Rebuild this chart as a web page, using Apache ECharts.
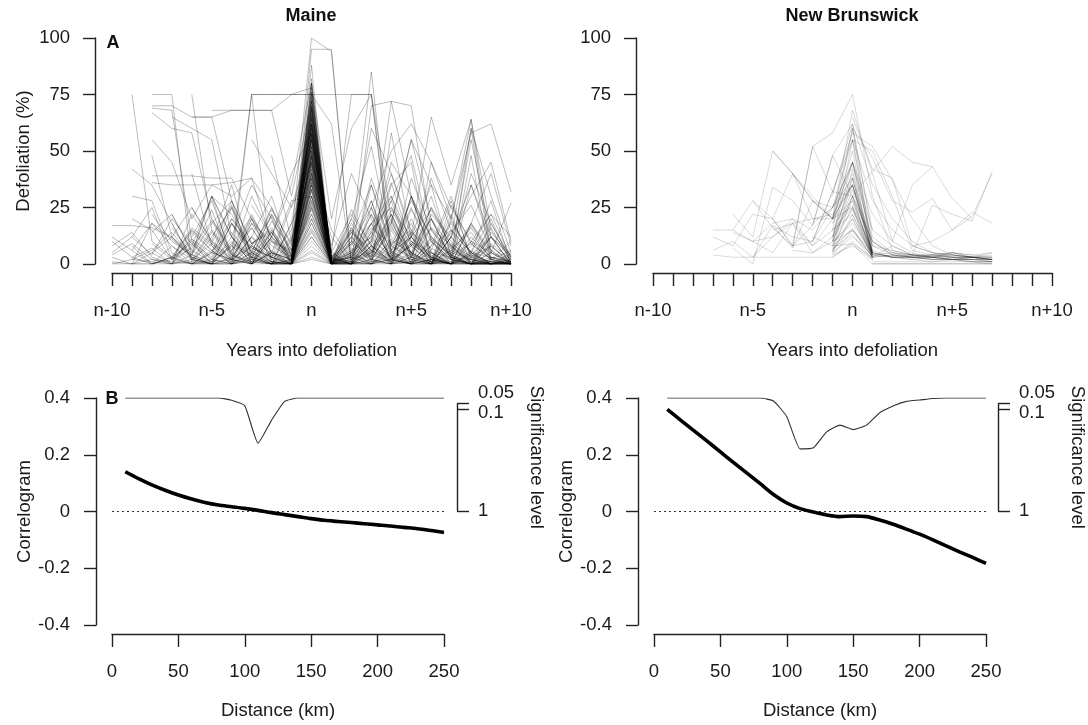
<!DOCTYPE html>
<html>
<head>
<meta charset="utf-8">
<script src="https://cdn.jsdelivr.net/npm/echarts@6/dist/echarts.min.js"></script>
<style>
html,body{margin:0;padding:0;background:#fff;}
#chart{width:1088px;height:725px;}
</style>
</head>
<body>
<div id="chart"></div>
<script>
// ---------------- DATA ----------------
const panelTitles = ['Maine', 'New Brunswick'];
const yearTickValues = [-10, -5, 0, 5, 10];
const yearTickLabels = ['n-10', 'n-5', 'n', 'n+5', 'n+10'];
const defolTicks = [0, 25, 50, 75, 100];
const corrTicks = [-0.4, -0.2, 0, 0.2, 0.4];
const sigTickValues = [0.05, 0.1, 1];
const sigTickLabels = ['0.05', '0.1', '1'];

// Maine defoliation trajectories: [first year relative to n, values...]
const maineLines = [
  [-10, 17,17,16,12,4,0,2,8,3,0, 45, 1,5,12,3,0,8,15,5,0,2],
  [-10, 10,3,0,8,2,15,5,0,12,3, 62, 2,0,18,25,10,2,0,5,3,0],
  [-10, 5,12,25,2,10,0,18,7,3,0, 30, 0,10,3,22,5,0,12,3,1,0],
  [-10, 3,0,18,8,0,5,2,22,5,0, 70, 1,3,0,8,28,12,3,0,9,2],
  [-10, 0,2,6,14,3,0,9,4,0,2, 55, 0,2,6,1,9,3,0,4,1,0],
  [-10, 1,0,0,3,0,1,2,0,0,0, 20, 0,1,0,2,0,0,1,0,0,0],
  [-10, 0,0,2,1,0,0,0,1,0,0, 35, 0,0,1,0,3,1,0,0,0,1],
  [-10, 4,9,2,0,14,6,0,3,11,1, 26, 0,7,2,16,5,1,9,3,0,4],
  [-10, 12,6,0,2,7,19,4,0,5,2, 48, 3,14,6,2,0,11,4,18,6,0],
  [-10, 8,14,3,0,22,9,1,12,0,4, 40, 2,9,1,18,4,0,7,14,2,6],
  [-9, 75,10,3,0,12,25,5,0,8, 55, 0,15,2,10,5,0,20,4,0,5],
  [-9, 42,35,18,2,0,8,0,15,3, 48, 2,0,25,5,12,35,3,0,18,3],
  [-9, 0,5,12,25,10,3,30,12,0, 80, 0,3,12,40,15,2,0,8,22,12],
  [-9, 20,15,2,0,6,14,3,0,1, 38, 3,10,2,0,5,16,4,0,1,0],
  [-9, 8,0,3,16,9,2,0,6,0, 66, 0,1,7,22,3,0,6,2,0,1],
  [-9, 2,1,0,4,1,8,3,1,0, 25, 0,4,1,2,8,1,0,2,1,0],
  [-9, 30,28,5,0,2,10,1,0,0, 50, 0,0,4,1,0,2,0,1,0,0],
  [-9, 0,0,0,1,0,0,2,0,0, 12, 0,0,0,0,1,0,0,0,0,0],
  [-9, 12,4,20,9,0,3,16,2,0, 52, 1,18,6,0,12,24,8,2,0,3],
  [-9, 6,18,11,3,0,9,21,5,2, 67, 0,4,16,9,3,20,7,1,0,2],
  [-9, 3,7,0,12,28,4,1,14,0, 58, 2,20,5,0,9,2,14,26,6,0],
  [-8, 75,75,0,5,2,18,10,0, 65, 5,22,8,0,30,12,4,0,2],
  [-8, 70,70,65,65,68,68,68,30, 72, 0,12,35,8,2,0,15,5,0],
  [-8, 69,68,10,3,25,0,12,40, 58, 3,0,5,18,55,20,3,0,8],
  [-8, 67,60,58,20,5,75,75,75, 75, 75,75,75,2,8,0,12,30,45,10],
  [-8, 55,45,20,35,30,38,10,5, 38, 0,20,52,8,3,25,10,0,0],
  [-8, 39,39,39,38,38,20,3,15, 60, 5,0,10,72,70,15,5,2,0],
  [-8, 36,35,35,35,36,38,25,8, 52, 8,40,20,2,0,45,25,10,5],
  [-8, 0,3,9,2,0,12,4,0, 42, 1,6,0,9,15,2,0,4,12],
  [-8, 14,22,6,1,18,5,24,9, 76, 2,0,14,4,1,10,2,0,0],
  [-8, 5,0,2,0,1,3,0,0, 30, 0,1,0,2,0,0,3,0,1,0],
  [-8, 48,12,2,0,0,5,1,0, 18, 0,0,2,0,1,0,0,0,0,0],
  [-8, 9,2,15,6,0,20,8,3, 72, 0,6,12,30,4,1,19,5,0],
  [-8, 22,10,4,30,12,2,0,11, 44, 1,3,22,6,14,0,4,9,2],
  [-7, 0,8,30,12,0,5,2, 40, 0,2,5,28,48,10,0,35,12,0],
  [-7, 65,60,55,12,35,20,0, 95, 95,0,2,15,0,5,3,40,18,2],
  [-7, 12,3,0,18,6,1,0, 48, 2,12,0,6,25,3,0,10,2,0],
  [-7, 3,15,8,0,2,22,4, 22, 0,5,18,2,0,12,3,0,1,0],
  [-7, 22,5,30,2,0,10,6, 62, 0,0,8,1,20,2,0,6,0,0],
  [-7, 18,2,9,26,4,14,1, 33, 0,9,28,4,18,1,6,16,2,10],
  [-7, 2,11,5,20,9,0,18, 39, 4,0,11,3,24,10,2,0,5,1],
  [-7, 16,4,24,1,12,30,3, 64, 0,14,2,17,0,6,28,3,8,0],
  [-6, 75,15,0,8,2,12, 100, 94,0,8,3,0,22,12,0,2,0],
  [-6, 65,65,28,0,12,35, 80, 20,60,75,5,2,0,12,60,2,0],
  [-6, 25,10,2,18,5,0, 35, 0,3,18,30,10,5,0,18,3,1],
  [-6, 40,8,0,5,25,3, 68, 1,0,35,6,0,2,22,0,0,0],
  [-6, 0,0,12,3,0,0, 15, 0,0,0,4,0,0,1,0,0,0],
  [-6, 4,18,28,9,16,1, 57, 2,16,4,24,8,30,4,0,14,4],
  [-6, 11,2,20,7,3,26, 51, 0,8,25,2,12,4,0,10,22,3],
  [-6, 1,14,4,0,19,6, 74, 3,0,6,19,1,16,8,0,3,1],
  [-5, 68,68,68,68,75, 75, 62,0,5,22,3,0,12,35,8,0],
  [-5, 30,22,5,0,10, 55, 0,12,2,0,38,15,3,2,12,0],
  [-5, 10,35,2,0,6, 45, 3,0,14,28,2,0,8,1,0,0],
  [-5, 2,0,8,1,0, 28, 1,0,0,5,0,2,0,0,0,1],
  [-5, 20,6,16,3,0, 36, 0,24,8,1,30,3,0,17,5,0],
  [-5, 5,28,9,14,2, 61, 2,1,10,36,8,20,2,0,12,4],
  [-4, 0,75,0,18, 70, 5,75,75,20,0,8,30,2,0,0],
  [-4, 12,0,5,28, 30, 0,2,15,25,12,0,5,55,12,0],
  [-4, 6,20,1,0, 58, 0,4,22,0,10,3,0,18,40,8],
  [-4, 18,3,22,6, 47, 0,16,3,20,5,0,26,9,2,0],
  [-4, 2,9,15,0, 33, 1,5,28,0,14,7,2,0,8,1],
  [-3, 75,75,75, 78, 0,5,0,58,12,0,2,60,30,5],
  [-3, 55,40,25, 45, 15,2,10,0,3,25,8,0,12,3],
  [-3, 10,3,0, 62, 0,10,85,5,12,3,0,5,20,0],
  [-3, 26,12,4, 56, 0,9,18,2,30,11,0,3,16,1],
  [-3, 8,21,1, 69, 1,3,0,11,4,38,15,0,5,0],
  [-2, 0,2, 50, 0,15,3,35,45,0,18,5,28,0],
  [-2, 48,10, 62, 0,0,38,12,5,20,2,0,0,1],
  [0, 40,12,0,8,45,30,5,0,48,0,0],
  [1, 5,0,70,72,30,5,0,12,3,0],
  [2, 10,60,40,12,65,35,64,15,2],
  [3, 25,50,62,45,20,58,62,32],
  [4, 18,55,35,20,64,5,27]
];

// Maine: lines that jump from near 0 at n-1 to a peak at n and drop at n+1 [n-1, n, n+1]
const maineFan = [
  [0,80,0],[0,78,1],[0,75,0],[1,72,0],[0,70,2],[0,68,0],[0,66,0],[2,64,1],[0,62,0],[0,60,0],
  [0,58,3],[1,56,0],[0,55,0],[0,53,1],[0,52,0],[0,50,0],[3,48,0],[0,47,1],[0,45,0],[0,44,0],
  [1,42,0],[0,40,2],[0,38,0],[0,37,0],[0,35,1],[2,33,0],[0,32,0],[0,30,0],[0,28,1],[0,27,0],
  [1,25,0],[0,24,0],[0,22,2],[0,20,0],[0,18,0],[0,16,1],[0,14,0],[0,12,0],[0,10,0],[0,8,0],
  [0,6,0],[0,5,0],[0,3,0],[0,2,0],[0,88,0],[0,82,1],[0,65,5],[5,60,0],[0,57,0],[0,43,0],
  [0,76,0],[0,73,1],[0,69,0],[0,63,0],[0,59,0],[0,54,2],[0,49,0],[0,46,0],[0,41,0],[0,36,0]
];

// New Brunswick defoliation trajectories: [first year relative to n, values...]
const nbLines = [
  [-7, 15,15,10,18,20,15,25, 45, 10,5,3,4,3,2,2],
  [-7, 12,8,22,20,40,30,20, 35, 5,3,3,2,2,2,1],
  [-7, 6,10,3,12,18,8,20, 28, 4,5,4,3,4,3,3],
  [-7, 4,3,3,3,3,3,3, 9, 0,0,0,0,0,0,0],
  [-6, 15,28,16,8,52,58, 75, 30,6,4,4,5,4,5],
  [-6, 22,12,50,40,20,20, 68, 40,10,5,3,3,3,2],
  [-6, 7,0,34,28,17,48, 62, 12,5,4,3,2,2,2],
  [-5, 28,20,8,10,32, 58, 52,37,20,8,4,3,2],
  [-5, 3,17,7,28,25, 45, 22,10,35,43,29,20],
  [-4, 50,40,28,20, 60, 15,8,4,26,22,19,41],
  [-4, 20,8,52,32, 55, 8,4,3,3,5,3,2],
  [-4, 17,12,10,25, 38, 5,3,2,1,2,1,1],
  [-3, 8,17,48, 30, 41,52,45,43],
  [-3, 40,28,20, 45, 10,4,3,4,3,3,2],
  [-2, 28,20, 35, 5,3,3,2,2,3,1],
  [-2, 10,32, 30, 3,4,4,3,2,2],
  [-1, 20, 25, 4,3,3,2,2,1,1],
  [-1, 10, 15, 5,3,2,3,2,2,1],
  [-1, 5, 22, 3,4,3,3,4,3,2],
  [1, 0,0,0,0,0,0,0],
  [1, 0,0,0,0,0,0,0],
  [1, 1,1,1,1,1,1,1],
  [-1, 30, 62, 35,20,10,5,4,3,3],
  [-2, 18,25, 55, 28,15,8,5,4,3,3],
  [-3, 6,5,12, 38, 8,6,4,4,5,4,3],
  [-4, 15,18,20,22, 35, 4,3,3,2,3,3,2],
  [-6, 14,10,5,18,5,10, 30, 10,4,3,3,2,3,4],
  [-5, 10,12,20,8,15, 25, 6,3,4,3,5,3,5],
  [0, 65, 42,38,8,5,3,3,2],
  [0, 55, 50,30,6,4,3,2,2],
  [3, 8,10,15,21,40],
  [-2, 12,8, 15, 3,8,4,3,2,1,0],
  [0, 60, 47,28,23,29,15,23,18]
];

// New Brunswick: [n-1, n, n+1]
const nbFan = [
  [15,60,5],[10,55,4],[20,50,6],[12,45,3],[8,42,5],[18,40,4],[6,38,3],[14,35,5],[10,33,4],[5,30,3],
  [12,28,5],[8,25,2],[15,22,4],[6,20,3],[10,18,5],[4,15,3],[7,13,2],[5,12,4],[3,10,2],[8,9,3],
  [12,30,10],[20,45,15],[25,35,8],[18,26,6],[9,20,4],[6,16,3],[4,8,2],[11,24,4]
];

// Correlograms (distance classes, km)
const distances = [10,20,30,40,50,60,70,80,90,100,110,120,130,140,150,160,170,180,190,200,210,220,230,240,250];
const maineCorr = [0.140,0.116,0.094,0.075,0.058,0.044,0.032,0.023,0.017,0.011,0.004,-0.004,-0.011,-0.018,-0.025,-0.031,-0.035,-0.039,-0.043,-0.047,-0.051,-0.056,-0.061,-0.067,-0.074];
const nbCorr = [0.360,0.322,0.285,0.248,0.210,0.172,0.135,0.098,0.060,0.030,0.010,-0.002,-0.012,-0.018,-0.016,-0.018,-0.030,-0.045,-0.062,-0.080,-0.100,-0.121,-0.142,-0.162,-0.183];
// Significance level (p) of each distance class
const maineSig = [0,0,0,0,0,0,0,0,0.02,0.07,0.40,0.20,0.03,0,0,0,0,0,0,0,0,0,0,0,0];
const nbSig = [0,0,0,0,0,0,0,0,0.027,0.165,0.45,0.44,0.30,0.24,0.28,0.24,0.13,0.07,0.03,0.018,0.005,0,0,0,0];

// ---------------- CHART ----------------
const FONT = '"Liberation Sans", Arial, Helvetica, sans-serif';
const TXT = '#1a1a1a';
const AX = '#222';
const FS = 18.5;
const chart = echarts.init(document.getElementById('chart'), null, {renderer: 'canvas'});

function yearLabel(v) {
  const i = yearTickValues.indexOf(v);
  return i >= 0 ? yearTickLabels[i] : '';
}

const grids = [
  {left: 112, top: 38, width: 399, height: 226},
  {left: 653, top: 38, width: 399, height: 226},
  {left: 112, top: 398, width: 332, height: 227},
  {left: 654, top: 398, width: 332, height: 227},
  {left: 112, top: 403.65, width: 345, height: 107.35},
  {left: 654, top: 403.65, width: 346, height: 107.35}
];

const axisLineStyle = {show: true, onZero: false, lineStyle: {color: AX, width: 1.4}};
const labelStyle = {color: TXT, fontSize: FS, fontFamily: FONT};
const nameStyle = {color: TXT, fontSize: FS, fontFamily: FONT};

function yearAxis(gi) {
  return {
    type: 'value', gridIndex: gi, min: -10, max: 10, interval: 1, offset: 9,
    axisLine: axisLineStyle, splitLine: {show: false},
    axisTick: {show: true, length: 13, lineStyle: {color: AX, width: 1.4}},
    axisLabel: Object.assign({margin: 28, formatter: yearLabel}, labelStyle),
    name: 'Years into defoliation', nameLocation: 'middle', nameGap: 68, nameTextStyle: nameStyle
  };
}
function distAxis(gi) {
  return {
    type: 'value', gridIndex: gi, min: 0, max: 250, interval: 50, offset: 9,
    axisLine: axisLineStyle, splitLine: {show: false},
    axisTick: {show: true, length: 13, lineStyle: {color: AX, width: 1.4}},
    axisLabel: Object.assign({margin: 28}, labelStyle),
    name: 'Distance (km)', nameLocation: 'middle', nameGap: 67, nameTextStyle: nameStyle
  };
}
function defolAxis(gi, named) {
  return {
    type: 'value', gridIndex: gi, min: 0, max: 100, interval: 25, offset: 17,
    axisLine: axisLineStyle, splitLine: {show: false},
    axisTick: {show: true, length: 12, lineStyle: {color: AX, width: 1.4}},
    axisLabel: Object.assign({margin: 25, formatter: v => defolTicks.indexOf(v) >= 0 ? String(v) : ''}, labelStyle),
    name: named ? 'Defoliation (%)' : '', nameLocation: 'middle', nameGap: 62, nameRotate: 90, nameTextStyle: nameStyle
  };
}
function corrAxis(gi) {
  return {
    type: 'value', gridIndex: gi, min: -0.4, max: 0.4, interval: 0.2, offset: 16,
    axisLine: axisLineStyle, splitLine: {show: false},
    axisTick: {show: true, length: 12, lineStyle: {color: AX, width: 1.4}},
    axisLabel: Object.assign({margin: 26, formatter: v => {
      const t = corrTicks.find(c => Math.abs(c - v) < 1e-6);
      return t === undefined ? '' : String(t);
    }}, labelStyle),
    name: 'Correlogram', nameLocation: 'middle', nameGap: 62, nameRotate: 90, nameTextStyle: nameStyle
  };
}
function sigHiddenAxis(gi) {
  // p scale: 0 at top of panel, 1 at the "1" tick
  return {type: 'value', gridIndex: gi, min: 0, max: 2.009, inverse: true, show: false, splitLine: {show: false}, axisLine: {onZero: false}};
}
function sigAxis(gi) {
  return {
    type: 'value', gridIndex: gi, position: 'right', min: 0.05, max: 1, inverse: true,
    axisLine: axisLineStyle, splitLine: {show: false},
    axisTick: {show: true, length: 12, customValues: sigTickValues, lineStyle: {color: AX, width: 1.4}},
    axisLabel: {
      margin: 21, customValues: sigTickValues, color: TXT, fontSize: FS, fontFamily: FONT,
      formatter: v => {
        const i = sigTickValues.findIndex(s => Math.abs(s - v) < 1e-6);
        if (i < 0) return '';
        const key = i === 0 ? 'up' : (i === 1 ? 'dn' : 'nm');
        return '{' + key + '|' + sigTickLabels[i] + '}';
      },
      rich: {
        up: {fontSize: FS, fontFamily: FONT, color: TXT, padding: [0, 0, 22, 0]},
        dn: {fontSize: FS, fontFamily: FONT, color: TXT, padding: [8, 0, 0, 0]},
        nm: {fontSize: FS, fontFamily: FONT, color: TXT}
      }
    },
    name: 'Significance level', nameLocation: 'middle', nameGap: 70, nameRotate: -90, nameTextStyle: nameStyle
  };
}
function hiddenX(gi) {
  return {type: 'value', gridIndex: gi, min: 0, max: 1, show: false, splitLine: {show: false}, axisLine: {onZero: false}};
}

const xAxes = [yearAxis(0), yearAxis(1), distAxis(2), distAxis(3), hiddenX(4), hiddenX(5)];
const yAxes = [defolAxis(0, true), defolAxis(1, false), corrAxis(2), corrAxis(3),
               sigHiddenAxis(2), sigHiddenAxis(3), sigAxis(4), sigAxis(5)];

const series = [];
function addTraj(line, axisIdx, color) {
  const start = line[0];
  const data = [];
  for (let i = 1; i < line.length; i++) {
    const x = start + i - 1;
    if (x <= 10) data.push([x, line[i]]);
  }
  series.push({
    type: 'line', xAxisIndex: axisIdx, yAxisIndex: axisIdx, data: data,
    showSymbol: false, symbol: 'none', silent: true, animation: false,
    lineStyle: {width: 1, color: color}
  });
}
maineLines.forEach(l => addTraj(l, 0, 'rgba(0,0,0,0.26)'));
maineFan.forEach(t => addTraj([-1].concat(t), 0, 'rgba(0,0,0,0.24)'));
nbLines.forEach(l => addTraj(l, 1, 'rgba(0,0,0,0.15)'));
nbFan.forEach(t => addTraj([-1].concat(t), 1, 'rgba(0,0,0,0.15)'));

function addCorrPanel(gi, corr, sig, sigY) {
  series.push({
    type: 'line', xAxisIndex: gi, yAxisIndex: gi, data: [[0, 0], [250, 0]],
    showSymbol: false, symbol: 'none', silent: true, animation: false,
    lineStyle: {width: 1, color: '#333', type: [2, 3]}
  });
  series.push({
    type: 'line', xAxisIndex: gi, yAxisIndex: sigY, data: distances.map((d, i) => [d, sig[i]]),
    showSymbol: false, symbol: 'none', silent: true, animation: false, smooth: 0.15,
    lineStyle: {width: 1.1, color: '#333'}
  });
  series.push({
    type: 'line', xAxisIndex: gi, yAxisIndex: gi, data: distances.map((d, i) => [d, corr[i]]),
    showSymbol: false, symbol: 'none', silent: true, animation: false, smooth: 0.3,
    lineStyle: {width: 3.6, color: '#000'}
  });
}
addCorrPanel(2, maineCorr, maineSig, 4);
addCorrPanel(3, nbCorr, nbSig, 5);

const textEls = [
  {type: 'text', x: 311, y: 16, style: {text: panelTitles[0], align: 'center', verticalAlign: 'middle', fontSize: 18, fontWeight: 'bold', fontFamily: FONT, fill: '#111'}},
  {type: 'text', x: 852, y: 16, style: {text: panelTitles[1], align: 'center', verticalAlign: 'middle', fontSize: 18, fontWeight: 'bold', fontFamily: FONT, fill: '#111'}},
  {type: 'text', x: 113, y: 43, style: {text: 'A', align: 'center', verticalAlign: 'middle', fontSize: 18, fontWeight: 'bold', fontFamily: FONT, fill: '#111'}},
  {type: 'text', x: 112, y: 399, style: {text: 'B', align: 'center', verticalAlign: 'middle', fontSize: 18, fontWeight: 'bold', fontFamily: FONT, fill: '#111'}}
];

chart.setOption({
  animation: false,
  backgroundColor: '#fff',
  grid: grids,
  xAxis: xAxes,
  yAxis: yAxes,
  series: series,
  graphic: textEls
});
</script>
</body>
</html>
